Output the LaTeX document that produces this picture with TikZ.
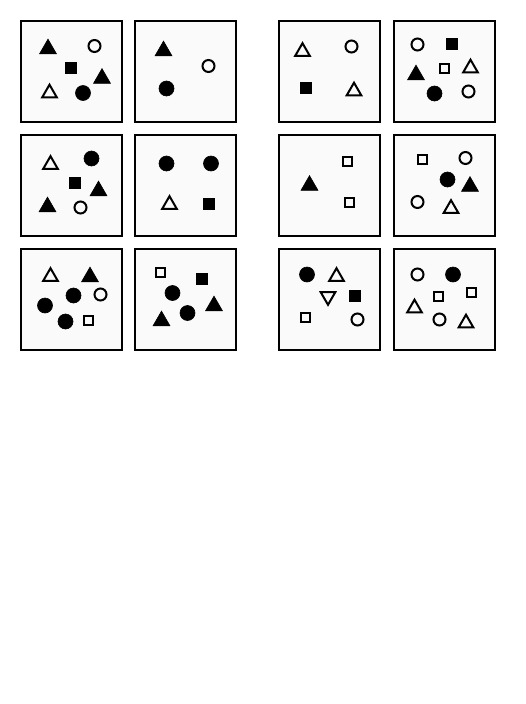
\documentclass[tikz,border=0pt]{standalone}
\usepackage{tikz}
\usetikzlibrary{shapes.geometric}
\usetikzlibrary{positioning}
\tikzset{panel/.style={draw=black,line width=2.3pt,fill=black!2,minimum size=101pt,inner sep=0pt}}
\tikzset{fcirc/.style={circle,fill=black,draw=black,line width=0.6pt,minimum size=15pt,inner sep=0pt}}
\tikzset{ocirc/.style={circle,draw=black,line width=2pt,minimum size=12pt,inner sep=0pt}}
\tikzset{fsq/.style={rectangle,fill=black,draw=black,line width=0.6pt,minimum size=11pt,inner sep=0pt}}
\tikzset{osq/.style={rectangle,draw=black,line width=2pt,minimum size=9pt,inner sep=0pt}}
\tikzset{ftri/.style={regular polygon,regular polygon sides=3,fill=black,draw=black,line width=0.6pt,minimum size=19.5pt,inner sep=0pt,yshift=-2.4pt}}
\tikzset{otri/.style={regular polygon,regular polygon sides=3,draw=black,line width=2pt,minimum size=17pt,inner sep=0pt,yshift=-2.2pt}}
\tikzset{vtri/.style={regular polygon,regular polygon sides=3,shape border rotate=180,draw=black,line width=2pt,minimum size=17pt,inner sep=0pt,yshift=2.2pt}}

\begin{document}
\begin{tikzpicture}[x=1pt,y=-1pt]
\useasboundingbox (0,0) rectangle (526,704);

\foreach \r/\y in {1/71.5,2/185.5,3/299.5}
  \foreach \c/\x in {1/71.5,2/185.5,3/329.5,4/444.5}
  {
 \node[panel] (p\r\c) at (\x,\y) {};
 }

% top row
\foreach \s/\x/\y [count=\k] in {ftri/48/46.5, ocirc/94.5/46, fsq/71/68, ftri/102/76, otri/49.5/91, fcirc/83/93}
  \node[\s] (a\k) at (\x,\y) {};
\foreach \s/\x/\y [count=\k] in {ftri/163.5/48.5, ocirc/208.5/66, fcirc/166.5/88.5}
  \node[\s] (b\k) at (\x,\y) {};
\foreach \s/\x/\y [count=\k] in {otri/302.5/49.5, ocirc/351.5/46.5, fsq/305.5/88, otri/354/89}
  \node[\s] (c\k) at (\x,\y) {};
\foreach \s/\x/\y [count=\k] in {ocirc/417.5/44.5, fsq/452/44, ftri/416/72.5, osq/444/68, otri/470.5/66, fcirc/434.5/93.5, ocirc/468.5/91.5}
  \node[\s] (d\k) at (\x,\y) {};

% middle row
\foreach \s/\x/\y [count=\k] in {otri/50.5/162.5, fcirc/91.5/158.5, fsq/75/183, ftri/98.5/188.5, ftri/47.5/204.5, ocirc/80.5/207.5}
  \node[\s] (e\k) at (\x,\y) {};
\foreach \s/\x/\y [count=\k] in {fcirc/166.5/163.5, fcirc/211/163.5, otri/169.5/202.5, fsq/209/204}
  \node[\s] (f\k) at (\x,\y) {};
\foreach \s/\x/\y [count=\k] in {osq/347.5/161.5, ftri/309.5/183, osq/349.5/202.5}
  \node[\s] (g\k) at (\x,\y) {};
\foreach \s/\x/\y [count=\k] in {osq/422.5/159.5, ocirc/465.5/158, fcirc/447.5/179.5, ftri/470/184, ocirc/417.5/202, otri/451/206.5}
  \node[\s] (h\k) at (\x,\y) {};

% bottom row
\foreach \s/\x/\y [count=\k] in {otri/50.5/274.5, ftri/90/274.5, fcirc/45/305.5, fcirc/73.5/295.5, ocirc/100.5/294.5, fcirc/65.5/321.5, osq/88.5/320.5}
  \node[\s] (i\k) at (\x,\y) {};
\foreach \s/\x/\y [count=\k] in {osq/160.5/272, fsq/201.5/278.5, fcirc/172.5/293, ftri/214/303.5, ftri/161.5/318.5, fcirc/187.5/313}
  \node[\s] (j\k) at (\x,\y) {};
\foreach \s/\x/\y [count=\k] in {fcirc/307/274.5, otri/336.5/274.5, vtri/328/298.5, fsq/354.5/295.5, osq/305.5/317, ocirc/357.5/319.5}
  \node[\s] (k\k) at (\x,\y) {};
\foreach \s/\x/\y [count=\k] in {ocirc/417.5/274.5, fcirc/453/274.5, osq/438.5/296.5, osq/471.5/292.5, otri/414.5/306, ocirc/439.5/319.5, otri/466/321}
  \node[\s] (l\k) at (\x,\y) {};

\end{tikzpicture}
\end{document}
